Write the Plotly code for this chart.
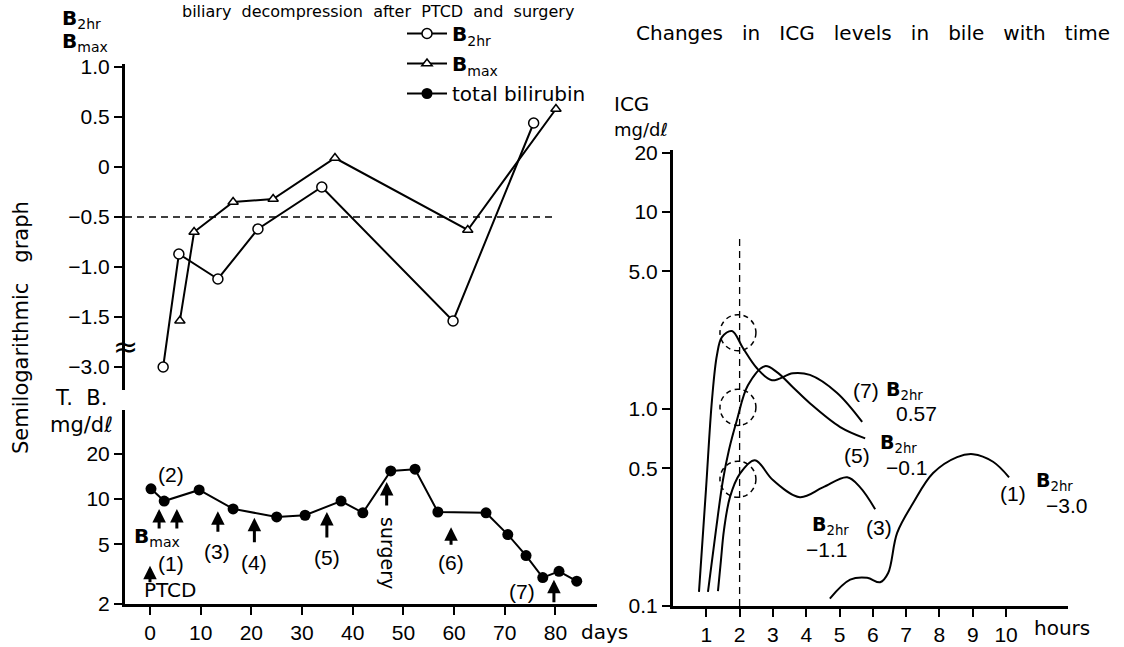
import plotly.graph_objects as go
import numpy as np

W, H = 1124, 647

# ---------------- data ----------------
# total bilirubin (mg/dl) vs days
tb_days = [0.2, 2.8, 9.7, 16.4, 25.0, 30.6, 37.7, 42.0, 47.5, 52.3, 56.8, 66.3, 70.6, 74.2, 77.5, 80.7, 84.2]
tb_vals = [11.7, 9.7, 11.5, 8.6, 7.6, 7.8, 9.7, 8.1, 15.4, 15.8, 8.2, 8.1, 5.8, 4.2, 3.0, 3.3, 2.84]

# B2hr and Bmax vs days
b2hr_days = [2.6, 5.7, 13.4, 21.3, 33.9, 59.8, 75.7]
b2hr_vals = [-3.0, -0.87, -1.12, -0.62, -0.20, -1.62, 0.44]
bmax_days = [5.9, 8.7, 16.4, 24.3, 36.5, 62.7, 80.1]
bmax_vals = [-1.61, -0.65, -0.35, -0.32, 0.09, -0.63, 0.58]

# ICG in bile (mg/dl) vs hours
c7_h = [0.78, 0.99, 1.17, 1.32, 1.47, 1.77, 2.10, 2.52, 2.97, 3.60, 4.11, 4.92, 5.68]
c7_v = [0.118, 0.39, 1.11, 1.88, 2.32, 2.49, 2.04, 1.61, 1.40, 1.52, 1.49, 1.21, 0.86]
c5_h = [1.05, 1.29, 1.50, 1.68, 1.92, 2.25, 2.76, 3.12, 3.60, 4.11, 5.02, 5.77]
c5_v = [0.118, 0.243, 0.436, 0.62, 0.88, 1.32, 1.65, 1.54, 1.29, 1.07, 0.81, 0.71]
c3_h = [1.35, 1.44, 1.53, 1.71, 2.01, 2.46, 3.00, 3.81, 4.50, 5.23, 5.62, 6.07]
c3_v = [0.119, 0.171, 0.243, 0.357, 0.47, 0.55, 0.436, 0.357, 0.40, 0.45, 0.40, 0.31]
c1_h = [4.71, 5.32, 5.83, 6.22, 6.46, 6.73, 7.21, 7.81, 8.53, 9.01, 9.61, 10.09]
c1_v = [0.109, 0.136, 0.139, 0.132, 0.147, 0.235, 0.333, 0.473, 0.57, 0.59, 0.54, 0.45]

# dashed circles around the 2-hour values (centre hour, centre value)
circ_h = [1.95, 1.95, 1.95]
circ_v = [2.44, 1.02, 0.44]

# event arrows on the T.B. panel: (day, tip value, shaft px)
ev_days = [0.0, 1.8, 5.3, 13.4, 20.6, 34.9, 46.7, 59.4, 79.7]
ev_tip = [3.6, 8.6, 8.6, 8.3, 7.5, 8.2, 13.0, 6.5, 2.9]
ev_len = [18, 21, 21, 22, 26, 27, 25, 19, 24]

top_ticks = [1.0, 0.5, 0.0, -0.5, -1.0, -1.5, -3.0]
top_ticktext = ["1.0", "0.5", "0", "\u22120.5", "\u22121.0", "\u22121.5", "\u22123.0"]
tb_ticks = [2, 5, 10, 20]
icg_ticks = [0.1, 0.5, 1.0, 5.0, 10, 20]
icg_ticktext = ["0.1", "0.5", "1.0", "5.0", "10", "20"]
day_ticks = [0, 10, 20, 30, 40, 50, 60, 70, 80]
hour_ticks = [1, 2, 3, 4, 5, 6, 7, 8, 9, 10]


def brk(v):
    # broken axis: values below -1.5 compressed
    return v if v >= -1.5 else -1.5 + (v + 1.5) / 3.0


def P(x, y):
    return x / W, 1 - y / H


FONT = "Liberation Sans, Arial, sans-serif"
FONT2 = "DejaVu Sans, Liberation Sans, sans-serif"

fig = go.Figure()

fig.add_trace(go.Scatter(x=b2hr_days, y=[brk(v) for v in b2hr_vals], xaxis="x", yaxis="y3",
                         mode="lines+markers", name="<b>B</b><sub>2hr</sub>", legendgroup="a",
                         line=dict(color="black", width=2),
                         marker=dict(symbol="circle", size=10, color="white", line=dict(color="black", width=1.5))))
fig.add_trace(go.Scatter(x=bmax_days, y=[brk(v) for v in bmax_vals], xaxis="x", yaxis="y3",
                         mode="lines+markers", name="<b>B</b><sub>max</sub>", legendgroup="b",
                         line=dict(color="black", width=2),
                         marker=dict(symbol="triangle-up", size=9, color="white", line=dict(color="black", width=1.5))))
fig.add_trace(go.Scatter(x=tb_days, y=tb_vals, xaxis="x", yaxis="y",
                         mode="lines+markers", name="total bilirubin", legendgroup="c",
                         line=dict(color="black", width=2),
                         marker=dict(symbol="circle", size=11, color="black")))

for hh, vv in [(c7_h, c7_v), (c5_h, c5_v), (c3_h, c3_v), (c1_h, c1_v)]:
    fig.add_trace(go.Scatter(x=hh, y=vv, xaxis="x2", yaxis="y2", mode="lines",
                             line=dict(color="black", width=2, shape="spline", smoothing=1.0),
                             showlegend=False, hoverinfo="skip"))

DASH = "7px,5px"
shapes = []
shapes.append(dict(type="line", xref="x", yref="y3", x0=-4.93, x1=80, y0=-0.5, y1=-0.5,
                   line=dict(color="black", width=1.3, dash=DASH)))
shapes.append(dict(type="line", xref="x2", yref="y2", x0=2, x1=2, y0=0.1, y1=7.4,
                   line=dict(color="black", width=1.3, dash=DASH)))
R_H = 0.54      # circle half-width in hours
R_F = 1.235     # circle half-height as a factor on the log axis
for ch, cv in zip(circ_h, circ_v):
    shapes.append(dict(type="circle", xref="x2", yref="y2",
                       x0=ch - R_H, x1=ch + R_H, y0=cv / R_F, y1=cv * R_F,
                       line=dict(color="black", width=1.5, dash="5px,4px")))

ann = []


def txt(x, y, s, size=20, family=FONT, xanchor="center", yanchor="middle", angle=0):
    xx, yy = P(x, y)
    ann.append(dict(x=xx, y=yy, xref="paper", yref="paper", text=s, showarrow=False,
                    font=dict(size=size, family=family, color="black"),
                    xanchor=xanchor, yanchor=yanchor, textangle=angle))


for d, v, L in zip(ev_days, ev_tip, ev_len):
    ann.append(dict(x=d, y=float(np.log10(v)), xref="x", yref="y", ax=0, ay=L,
                    axref="pixel", ayref="pixel", text="", showarrow=True,
                    arrowhead=2, arrowsize=0.9, arrowwidth=3, arrowcolor="black", standoff=0))

txt(378, 0, "biliary  decompression  after  PTCD  and  surgery", size=16, family=FONT2, yanchor="top")
txt(873, 33, "Changes   in   ICG   levels   in   bile   with   time", size=20, family=FONT2)
txt(21, 328, "Semilogarithmic   graph", size=21, family=FONT2, angle=-90)
txt(60, 19, "<b>B</b><sub>2hr</sub>", size=20, family=FONT2, xanchor="left")
txt(60, 42, "<b>B</b><sub>max</sub>", size=20, family=FONT2, xanchor="left")
txt(81, 398, "T.  B.", size=21, family=FONT2)
txt(81, 425, "mg/d\u2113", size=21, family=FONT2)
txt(171, 474, "(2)", size=21)
txt(157, 537, "<b>B</b><sub>max</sub>", size=20, family=FONT2)
txt(171, 563, "(1)", size=21)
txt(170, 590, "PTCD", size=20, family=FONT2)
txt(217, 551, "(3)", size=21)
txt(254, 562, "(4)", size=21)
txt(327, 557, "(5)", size=21)
txt(388, 553, "surgery", size=19, family=FONT2, angle=90)
txt(451, 562, "(6)", size=21)
txt(522, 591, "(7)", size=21)
txt(604, 632, "days", size=20, family=FONT2)
txt(1062, 628, "hours", size=20, family=FONT2)
txt(612, 104, "ICG", size=20, family=FONT2, xanchor="left")
txt(612, 129, "mg/d\u2113", size=18, family=FONT2, xanchor="left")
txt(125, 346, "\u2248", size=30, family=FONT2)
txt(866, 390, "(7)", size=21)
txt(884, 390, "<b>B</b><sub>2hr</sub>", size=19, family=FONT2, xanchor="left")
txt(916, 413, "0.57", size=21)
txt(857, 455, "(5)", size=21)
txt(878, 443, "<b>B</b><sub>2hr</sub>", size=19, family=FONT2, xanchor="left")
txt(906, 467, "\u22120.1", size=21)
txt(810, 525, "<b>B</b><sub>2hr</sub>", size=19, family=FONT2, xanchor="left")
txt(879, 527, "(3)", size=21)
txt(826, 549, "\u22121.1", size=21)
txt(1013, 493, "(1)", size=21)
txt(1034, 481, "<b>B</b><sub>2hr</sub>", size=19, family=FONT2, xanchor="left")
txt(1066, 505, "\u22123.0", size=21)

ax_common = dict(showline=True, linecolor="black", linewidth=3, ticks="outside", ticklen=8,
                 tickwidth=2, tickcolor="black", showgrid=False, zeroline=False,
                 tickfont=dict(size=21, color="black", family=FONT))

fig.update_layout(
    width=W, height=H, margin=dict(l=0, r=0, t=0, b=0, autoexpand=False), autosize=False,
    paper_bgcolor="white", plot_bgcolor="rgba(0,0,0,0)",
    xaxis=dict(domain=[125 / W, 597 / W], range=[-4.93, 88.2], anchor="y",
               tickvals=day_ticks, ticklabelstandoff=0, **ax_common),
    yaxis=dict(domain=[1 - 604 / H, 1 - 410 / H], type="log", range=[np.log10(2), 1.593],
               anchor="x", tickvals=tb_ticks, ticktext=[str(t) for t in tb_ticks], **ax_common),
    yaxis3=dict(domain=[1 - 390 / H, 1 - 64 / H], range=[-2.23, 1.03], anchor="x",
                tickvals=[brk(t) for t in top_ticks], ticktext=top_ticktext, **ax_common),
    xaxis2=dict(domain=[673 / W, 1068 / W], range=[0, 11.86], anchor="y2",
                tickvals=hour_ticks, ticklabelstandoff=0, **ax_common),
    yaxis2=dict(domain=[1 - 606 / H, 1 - 150 / H], type="log", range=[-1, 1.315], anchor="x2",
                tickvals=icg_ticks, ticktext=icg_ticktext, **ax_common),
    shapes=shapes, annotations=ann,
    showlegend=True,
    legend=dict(x=402 / W, y=1 - 14 / H, xanchor="left", yanchor="top", traceorder="grouped",
                tracegroupgap=1,
                font=dict(size=20, family=FONT2, color="black"), itemwidth=40,
                bgcolor="rgba(0,0,0,0)", borderwidth=0),
)

fig.write_html("out.html", config={"responsive": False},
               post_script="document.body.style.margin='0';document.body.style.padding='0';")
